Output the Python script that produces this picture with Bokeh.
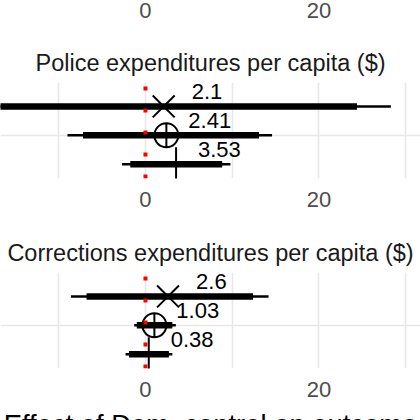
from bokeh.plotting import figure
from bokeh.models import Range1d, FixedTicker, ColumnDataSource
from bokeh.layouts import column
from bokeh.embed import file_html
from bokeh.resources import INLINE
from bokeh.core.properties import value

# ---------------- data ----------------
TICKS = [0, 20]
TICK_LABELS = ["0", "20"]
GRID_X = [-10, 0, 10, 20, 30]
REF_X = 0
X_LABEL = "Effect of Dem. control on outcome"

ROW_MARKERS = ["x", "circle_cross", "cross"]
ROW_DODGE = [0.375, 0.0, -0.375]

police_title = "Police expenditures per capita ($)"
police_est = [2.1, 2.41, 3.53]
police_lo90 = [-20.2, -7.2, -1.75]
police_hi90 = [24.4, 13.1, 8.85]
police_lo95 = [-24.2, -9.0, -2.7]
police_hi95 = [28.3, 14.6, 9.8]
police_labels = ["2.1", "2.41", "3.53"]

corr_title = "Corrections expenditures per capita ($)"
corr_est = [2.6, 1.03, 0.38]
corr_lo90 = [-6.8, -1.0, -1.9]
corr_hi90 = [12.4, 3.1, 2.7]
corr_lo95 = [-8.6, -1.3, -2.3]
corr_hi95 = [14.2, 3.5, 3.1]
corr_labels = ["2.6", "1.03", "0.38"]

# ---------------- styling / layout ----------------
X_START, X_END = -16.72, 31.72
Y_START, Y_END = 0.44, 1.685
W = 420
FONT = "Liberation Sans"
GRID_COLOR = "#e8e8e8"
MARKER_SIZES = [31, 24, 34]
LABEL_NUDGE_X = 5.0
LABEL_NUDGE_Y = 0.071
BASE_FIX = -9  # screen px correction for text baseline

x_range = Range1d(X_START, X_END)


def strip(height, texts, xs, y, y_off, size, color):
    p = figure(width=W, height=height, x_range=x_range, y_range=Range1d(0, height),
               output_backend="svg", toolbar_location=None, title=None,
               x_axis_location=None, y_axis_location=None, min_border=0)
    p.outline_line_color = None
    p.xgrid.visible = False
    p.ygrid.visible = False
    src = ColumnDataSource(dict(x=xs, y=[y] * len(xs), t=texts))
    p.text(x="x", y="y", text="t", source=src, text_font=value(FONT),
           text_font_size=size, text_color=color, text_align="center",
           text_baseline="alphabetic", y_offset=y_off)
    return p


def panel(title, est, lo90, hi90, lo95, hi95, labels):
    p = figure(width=W, height=190, x_range=x_range, y_range=Range1d(Y_START, Y_END),
               output_backend="svg", toolbar_location=None, y_axis_location=None,
               min_border_left=0, min_border_right=0, min_border_top=54, min_border_bottom=40)
    p.outline_line_color = None
    p.title.text = title
    p.title.align = "center"
    p.title.text_font = FONT
    p.title.text_font_size = "23.5px"
    p.title.text_font_style = "normal"
    p.title.text_color = "#1a1a1a"
    p.title.standoff = 14

    ax = p.xaxis[0]
    ax.ticker = FixedTicker(ticks=TICKS)
    ax.major_label_overrides = {t: l for t, l in zip(TICKS, TICK_LABELS)}
    ax.axis_line_color = None
    ax.major_tick_line_color = None
    ax.minor_tick_line_color = None
    ax.major_tick_out = 0
    ax.major_tick_in = 0
    ax.major_label_standoff = 13
    ax.major_label_text_font = FONT
    ax.major_label_text_font_size = "22px"
    ax.major_label_text_color = "#4d4d4d"

    p.xgrid.ticker = FixedTicker(ticks=GRID_X)
    p.ygrid.ticker = FixedTicker(ticks=[1])
    for g in (p.xgrid[0], p.ygrid[0]):
        g.grid_line_color = GRID_COLOR
        g.grid_line_width = 1.6

    ys = [1 + d for d in ROW_DODGE]
    src = ColumnDataSource(dict(
        y=ys, est=est, lo90=lo90, hi90=hi90, lo95=lo95, hi95=hi95,
        marker=ROW_MARKERS, size=MARKER_SIZES,
        lx=[e + LABEL_NUDGE_X for e in est], ly=[y + LABEL_NUDGE_Y for y in ys],
        label=labels))
    p.segment(x0="lo95", y0="y", x1="hi95", y1="y", source=src,
              line_color="black", line_width=2.5)
    p.segment(x0="lo90", y0="y", x1="hi90", y1="y", source=src,
              line_color="black", line_width=6.5)
    p.scatter(x="est", y="y", marker="marker", size="size", source=src,
              fill_color=None, line_color="black", line_width=2)
    p.segment(x0=[REF_X], y0=[Y_START], x1=[REF_X], y1=[Y_END],
              line_color="red", line_width=4, line_dash="4 18")
    p.text(x="lx", y="ly", text="label", source=src, text_font=value(FONT),
           text_font_size="22px", text_color="black", text_align="center",
           text_baseline="alphabetic", y_offset=BASE_FIX)
    return p


top = strip(28, TICK_LABELS, TICKS, 9, BASE_FIX, "22px", "#4d4d4d")
p1 = panel(police_title, police_est, police_lo90, police_hi90, police_lo95, police_hi95, police_labels)
p2 = panel(corr_title, corr_est, corr_lo90, corr_hi90, corr_lo95, corr_hi95, corr_labels)
bottom = strip(12, [X_LABEL], [(X_START + X_END) / 2], 6, 18.6 + BASE_FIX, "27.4px", "black")

layout = column(top, p1, p2, bottom, spacing=0)
open("out.html", "w").write(file_html(layout, INLINE))
